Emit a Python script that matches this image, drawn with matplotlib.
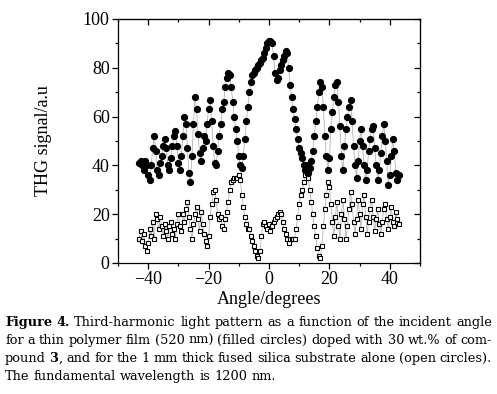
import matplotlib

matplotlib.use("Agg")
import matplotlib.pyplot as plt
from matplotlib.ticker import MultipleLocator

# incident angle (degrees), same grid for both scans
angle = [
    -43.0, -42.5, -42.0, -41.5, -41.0, -40.5, -40.0, -39.5, -39.0, -38.5,
    -38.0, -37.5, -37.0, -36.5, -36.0, -35.5, -35.0, -34.5, -34.0, -33.5,
    -33.0, -32.5, -32.0, -31.5, -31.0, -30.5, -30.0, -29.5, -29.0, -28.5,
    -28.0, -27.5, -27.0, -26.5, -26.0, -25.5, -25.0, -24.5, -24.0, -23.5,
    -23.0, -22.5, -22.0, -21.5, -21.0, -20.5, -20.0, -19.5, -19.0, -18.5,
    -18.0, -17.5, -17.0, -16.5, -16.0, -15.5, -15.0, -14.5, -14.0, -13.5,
    -13.0, -12.5, -12.0, -11.5, -11.0, -10.5, -10.0, -9.5, -9.0, -8.5,
    -8.0, -7.5, -7.0, -6.5, -6.0, -5.5, -5.0, -4.5, -4.0, -3.5,
    -3.0, -2.5, -2.0, -1.5, -1.0, -0.5, 0.0, 0.5, 1.0, 1.5,
    2.0, 2.5, 3.0, 3.5, 4.0, 4.5, 5.0, 5.5, 6.0, 6.5,
    7.0, 7.5, 8.0, 8.5, 9.0, 9.5, 10.0, 10.5, 11.0, 11.5,
    12.0, 12.5, 13.0, 13.5, 14.0, 14.5, 15.0, 15.5, 16.0, 16.5,
    17.0, 17.5, 18.0, 18.5, 19.0, 19.5, 20.0, 20.5, 21.0, 21.5,
    22.0, 22.5, 23.0, 23.5, 24.0, 24.5, 25.0, 25.5, 26.0, 26.5,
    27.0, 27.5, 28.0, 28.5, 29.0, 29.5, 30.0, 30.5, 31.0, 31.5,
    32.0, 32.5, 33.0, 33.5, 34.0, 34.5, 35.0, 35.5, 36.0, 36.5,
    37.0, 37.5, 38.0, 38.5, 39.0, 39.5, 40.0, 40.5, 41.0, 41.5,
    42.0, 42.5, 43.0,
]

# polymer film doped with compound 3 (filled circles)
film = [
    41, 42, 40, 38, 42, 40, 36, 34, 40, 47,
    52, 46, 38, 36, 41, 44, 48, 51, 47, 40,
    38, 43, 48, 52, 54, 48, 41, 38, 44, 52,
    60, 57, 47, 37, 33, 44, 57, 68, 63, 53,
    45, 42, 47, 52, 50, 57, 63, 67, 58, 48,
    41, 40, 46, 52, 57, 63, 66, 72, 76, 78,
    77, 72, 66, 60, 55, 50, 44, 40, 39, 44,
    51, 58, 64, 70, 74, 77, 78, 79, 80, 81,
    82, 83, 84, 86, 88, 90, 91, 91, 90, 85,
    78, 75, 76, 79, 81, 83, 85, 87, 86, 80,
    73, 68, 63, 59, 55, 51, 47, 45, 43, 40,
    38, 40, 37, 39, 42, 46, 52, 58, 64, 70,
    74, 72, 64, 52, 44, 38, 43, 55, 62, 68,
    73, 74, 66, 56, 44, 38, 48, 55, 60, 64,
    67, 58, 48, 40, 35, 42, 50, 55, 48, 40,
    34, 38, 46, 51, 55, 56, 47, 40, 34, 38,
    45, 52, 57, 50, 42, 32, 36, 44, 51, 46,
    37, 34, 36,
]

# fused silica substrate alone (open symbols)
substrate = [
    10, 13, 9, 12, 7, 5, 8, 14, 11, 17,
    10, 20, 18, 14, 19, 15, 11, 16, 13, 10,
    15, 17, 12, 14, 10, 16, 20, 15, 13, 20,
    17, 22, 25, 19, 14, 10, 16, 20, 23, 18,
    13, 21, 16, 12, 9, 7, 11, 19, 24, 29,
    30, 26, 20, 18, 19, 15, 14, 18, 21, 25,
    30, 33, 34, 35, 35, 35, 36, 34, 28, 23,
    19, 16, 14, 14, 11, 9, 7, 5, 3, 2,
    5, 11, 16, 17, 15, 14, 16, 13, 15, 17,
    18, 19, 20, 21, 20, 17, 14, 12, 10, 8,
    10, 10, 10, 10, 14, 19, 24, 28, 30, 33,
    36, 37, 35, 30, 25, 20, 15, 11, 6, 3,
    2, 7, 15, 22, 28, 33, 31, 24, 17, 11,
    19, 25, 15, 10, 20, 26, 18, 10, 15, 22,
    29, 24, 17, 12, 18, 26, 20, 14, 24, 28,
    19, 12, 17, 22, 26, 19, 13, 18, 22, 16,
    12, 17, 22, 24, 18, 14, 19, 23, 17, 15,
    21, 18, 16,
]

caption = [
    [("Figure 4.", True), ("Third-harmonic light pattern as a function of the incident angle", False)],
    [("for a thin polymer film (520 nm) (filled circles) doped with 30 wt.% of com-", False)],
    [("pound", False), ("3", True), (", and for the 1 mm thick fused silica substrate alone (open circles).", False)],
    [("The fundamental wavelength is 1200 nm.", False)],
]

AX_FONT = "Liberation Serif"
CAP_FONT = "DejaVu Serif"

fig = plt.figure(figsize=(4.97, 3.94), dpi=100)
ax = fig.add_axes([0.2374, 0.3325, 0.6076, 0.6193])

ax.plot(angle, film, color="#b5b5b5", lw=0.6, zorder=1)
ax.plot(angle, substrate, color="#b5b5b5", lw=0.6, zorder=1)
ax.plot(angle, film, ls="none", marker="o", ms=4.2, mfc="black", mec="black", zorder=3)
ax.plot(angle, substrate, ls="none", marker="s", ms=3.5, mfc="white", mec="black", mew=0.8, zorder=2)

ax.set_xlim(-50, 50)
ax.set_ylim(0, 100)
ax.xaxis.set_major_locator(MultipleLocator(20))
ax.xaxis.set_minor_locator(MultipleLocator(10))
ax.yaxis.set_major_locator(MultipleLocator(20))
ax.yaxis.set_minor_locator(MultipleLocator(10))
ax.tick_params(which="major", direction="out", length=4.5, width=0.9, pad=1.5,
               labelsize=13)
ax.tick_params(which="minor", direction="out", length=2.5, width=0.9)
for lab in ax.get_xticklabels() + ax.get_yticklabels():
    lab.set_fontfamily(AX_FONT)
for sp in ax.spines.values():
    sp.set_linewidth(0.9)

# top / right ticks point inward
top = ax.secondary_xaxis("top")
top.xaxis.set_major_locator(MultipleLocator(20))
top.xaxis.set_minor_locator(MultipleLocator(10))
top.tick_params(which="major", direction="in", length=4, width=0.9, labeltop=False)
top.tick_params(which="minor", direction="in", length=2.5, width=0.9)
right = ax.secondary_yaxis("right")
right.yaxis.set_major_locator(MultipleLocator(20))
right.yaxis.set_minor_locator(MultipleLocator(10))
right.tick_params(which="major", direction="in", length=4, width=0.9, labelright=False)
right.tick_params(which="minor", direction="in", length=2.5, width=0.9)

ax.set_xlabel("Angle/degrees", fontsize=13, family=AX_FONT, labelpad=2)
ax.set_ylabel("THG signal/a.u", fontsize=13, family=AX_FONT, labelpad=22)

# caption, justified across the figure width
fig.canvas.draw()
renderer = fig.canvas.get_renderer()
W, H = fig.bbox.width, fig.bbox.height
x0, x1 = 5, 492
baselines = [326, 344, 362, 380]
for i, (pieces, yb) in enumerate(zip(caption, baselines)):
    words = []
    for text, bold in pieces:
        for j, w in enumerate(text.split(" ")):
            # attach leading punctuation to the previous word
            glue = j == 0 and w[:1] in ",." and bool(words)
            words.append((w, bold, glue))
    items = []
    for w, bold, glue in words:
        t = fig.text(0, 1 - yb / H, w, fontsize=9.3, family=CAP_FONT,
                     fontweight="bold" if bold else "normal", va="baseline")
        items.append((t, t.get_window_extent(renderer).width, glue))
    space = 4.2
    n_gaps = sum(1 for k, it in enumerate(items) if k > 0 and not it[2])
    natural = sum(it[1] for it in items)
    if i < len(caption) - 1 and n_gaps:
        space = (x1 - x0 - natural) / n_gaps
    x = x0
    for k, (t, wd, glue) in enumerate(items):
        if k > 0 and not glue:
            x += space
        t.set_x(x / W)
        x += wd

fig.savefig("out.png", dpi=100)
